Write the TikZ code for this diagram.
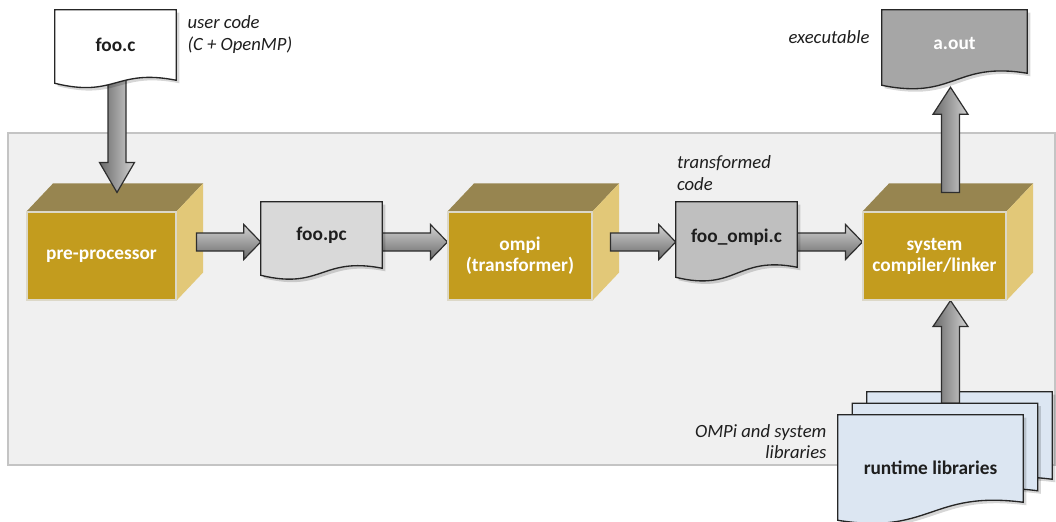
\documentclass[tikz,border=0pt]{standalone}
\usepackage{fontspec}
\setmainfont{Carlito}
\usetikzlibrary{calc}
\pgfdeclarelayer{panellayer}
\pgfdeclarelayer{boxlayer}
\pgfdeclarelayer{arrowlayer}
\pgfdeclarelayer{doclayer}
\pgfsetlayers{panellayer,boxlayer,arrowlayer,doclayer,main}
\definecolor{panelfill}{HTML}{F0F0F0}
\definecolor{paneldraw}{HTML}{C4C4C4}
\definecolor{frontc}{HTML}{C39C1E}
\definecolor{topc}{HTML}{978550}
\definecolor{sidec}{HTML}{E2C878}
\definecolor{edgec}{HTML}{DCD8C8}
\definecolor{docdraw}{HTML}{262626}
\definecolor{docwhite}{HTML}{FFFFFF}
\definecolor{docgray}{HTML}{D9D9D9}
\definecolor{docmid}{HTML}{BFBFBF}
\definecolor{docdark}{HTML}{A6A6A6}
\definecolor{docblue}{HTML}{DCE6F2}
\definecolor{arrlight}{HTML}{D2D2D2}
\definecolor{arrdark}{HTML}{6A6A6A}
\definecolor{arrdraw}{HTML}{2E2E2E}
\definecolor{txt}{HTML}{1E1E1E}
\tikzset{
  panel/.style={rectangle, fill=panelfill, draw=paneldraw, line width=1.3pt, inner sep=0pt},
  cubefront/.style={rectangle, fill=frontc, draw=edgec, line width=0.8pt, inner sep=0pt,
    text=white, font=\bfseries\fontsize{14.5}{15.75}\selectfont, align=center},
  docnode/.style={rectangle, inner sep=0pt, text=txt, font=\bfseries\fontsize{14.5}{15.75}\selectfont, align=center},
  docline/.style={draw=docdraw, line width=1pt},
  docshadow/.style={fill=black, opacity=0.16},
  lbl/.style={font=\itshape\fontsize{14}{16.5}\selectfont, text=txt, inner sep=0pt},
  harr/.style={top color=arrlight, bottom color=arrdark, draw=arrdraw, line width=0.9pt, line join=miter},
  varr/.style={left color=arrdark, right color=arrlight, draw=arrdraw, line width=0.9pt, line join=miter},
}
% cube side faces behind a front node
\newcommand\cube[1]{%
  \begin{pgfonlayer}{boxlayer}
  \path[fill=topc] (#1.north west) -- ++(26.5,-28) -- ($(#1.north east)+(26.5,-28)$) -- (#1.north east) -- cycle;
  \path[fill=sidec] (#1.north east) -- ++(26.5,-28) -- ($(#1.south east)+(26.5,-28)$) -- (#1.south east) -- cycle;
  \end{pgfonlayer}}
% document outline around a node: name, right drop, left drop, dx, dy
\newcommand\docpath[5]{%
  ($(#1.north west)+(#4,#5)$) -- ($(#1.north east)+(#4,#5)$) -- ($(#1.south east)+(#4,{#2+#5})$)
  .. controls ($(#1.south)+(#4,{#2-12+#5})$) and ($(#1.south)+(#4,{#3+15+#5})$) ..
  ($(#1.south west)+(#4,{#3+#5})$) -- cycle}
\newcommand\docshape[5][doclayer]{%
  \begin{pgfonlayer}{#1}
  \path[docshadow] \docpath{#2}{#4}{#5}{3}{3};
  \path[docline, fill=#3] \docpath{#2}{#4}{#5}{0}{0};
  \end{pgfonlayer}}
% horizontal block arrow: start (x used), tip
\newcommand\harrow[2]{%
  \begin{pgfonlayer}{arrowlayer}
  \path[harr] ($(#1 |- #2)+(0,-9)$) -- ($(#2)+(-17,-9)$) -- ($(#2)+(-17,-17.5)$) -- (#2)
    -- ($(#2)+(-17,17.5)$) -- ($(#2)+(-17,9)$) -- ($(#1 |- #2)+(0,9)$) -- cycle;
  \end{pgfonlayer}}
% vertical block arrow: start (y used), tip, signed head length
\newcommand\varrow[3]{%
  \begin{pgfonlayer}{arrowlayer}
  \path[varr] ($(#2 |- #1)+(-9,0)$) -- ($(#2)+(-9,#3)$) -- ($(#2)+(-17.5,#3)$) -- (#2)
    -- ($(#2)+(17.5,#3)$) -- ($(#2)+(9,#3)$) -- ($(#2 |- #1)+(9,0)$) -- cycle;
  \end{pgfonlayer}}
\begin{document}
\begin{tikzpicture}[x=0.75pt, y=-0.75pt]
\useasboundingbox (0,0) rectangle (1056,521);
\begin{pgfonlayer}{panellayer}
\node[panel, minimum width=785.25pt, minimum height=249pt] (panel) at (531.5,299) {};
\end{pgfonlayer}

% cubes
\node[cubefront, minimum width=111.75pt, minimum height=66pt] (pre) at (101.5,256) {pre-processor};
\node[cubefront, minimum width=108pt, minimum height=66pt] (ompi) at (520,256) {ompi\\(transformer)};
\node[cubefront, minimum width=107.25pt, minimum height=66pt] (sys) at (934.5,256) {system\\compiler/linker};
\cube{pre}\cube{ompi}\cube{sys}

% documents
\node[docnode, minimum width=90.75pt, minimum height=52.5pt] (foo) at (115.5,45) {foo.c};
\docshape{foo}{docwhite}{0}{3}
\node[docnode, minimum width=90.75pt, minimum height=49.5pt] (foopc) at (321.5,235) {foo.pc};
\docshape{foopc}{docgray}{0}{7}
\node[docnode, minimum width=90.75pt, minimum height=52.5pt] (fooompi) at (736.5,237) {foo\_ompi.c};
\docshape{fooompi}{docmid}{-5}{5}
\node[docnode, minimum width=108.75pt, minimum height=49.5pt, text=white] (aout) at (954.5,43) {a.out};
\docshape{aout}{docdark}{-3}{9}
\node[docnode, minimum width=138.75pt, minimum height=78.75pt] (rtb) at (959.5,444.5) {};
\docshape[boxlayer]{rtb}{docblue}{-18}{0}
\node[docnode, minimum width=138.75pt, minimum height=78.75pt] (rtm) at (945,456) {};
\docshape{rtm}{docblue}{-18}{0}
\node[docnode, minimum width=138.75pt, minimum height=78.75pt] (rtf) at (930.5,467.5) {runtime libraries};
\docshape{rtf}{docblue}{-18}{0}

% labels
\node[lbl, anchor=west, align=left] (lbluser) at ($(foo.north east)+(11,25)$) {user code\\(C + OpenMP)};
\node[lbl, anchor=east] (lblexe) at ($(aout.west)+(-12,-6)$) {executable};
\node[lbl, anchor=west, align=left] (lbltrans) at ($(fooompi.north west)+(1,-29)$) {transformed\\code};
\node[lbl, anchor=east, align=right, font=\itshape\fontsize{14}{15.75}\selectfont] (lbllib) at ($(rtf.west)+(-11,-25.5)$) {OMPi and system\\libraries};

% arrow end points
\coordinate (t0) at ($(pre.north)+(15.5,-19)$);
\coordinate (s1) at ($(pre.east)+(20,0)$);
\coordinate (t1) at ($(foopc.west)+(0,7)$);
\coordinate (t2) at ($(ompi.west)+(0,-14)$);
\coordinate (s3) at ($(ompi.east)+(18,0)$);
\coordinate (t3) at ($(fooompi.west)+(0,5)$);
\coordinate (t4) at ($(sys.west)+(0,-14)$);
\coordinate (sA) at ($(sys.north)+(16,-19)$);
\coordinate (tA) at ($(aout.south)+(-4,11)$);
\coordinate (tR) at ($(sys.south)+(16,0)$);

% arrows
\varrow{foo.south}{t0}{-30}
\harrow{s1}{t1}
\harrow{foopc.east}{t2}
\harrow{s3}{t3}
\harrow{fooompi.east}{t4}
\varrow{sA}{tA}{27}
\varrow{rtm.north}{tR}{26}
\end{tikzpicture}
\end{document}
